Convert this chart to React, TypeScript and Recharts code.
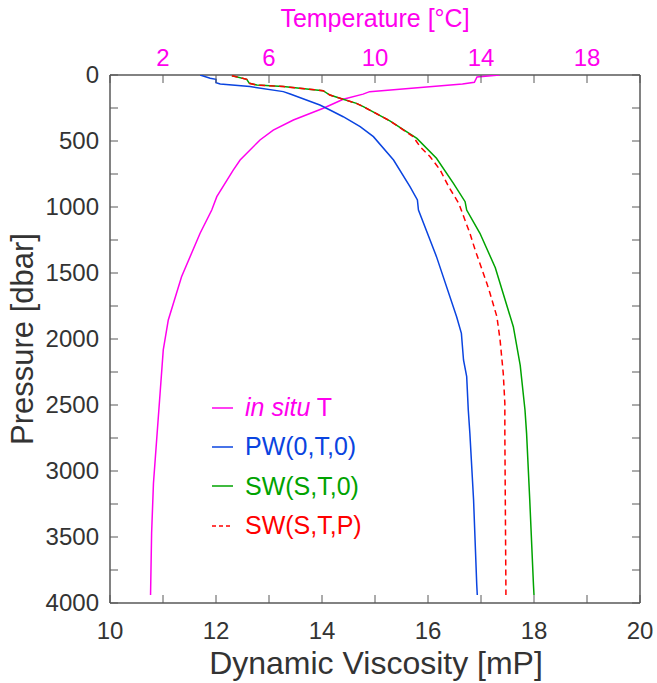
import React from "react";
import { ScatterChart, Scatter, XAxis, YAxis } from "recharts";

// axis ticks
const viscTicks = [10, 11, 12, 13, 14, 15, 16, 17, 18, 19, 20];
const viscLabels = [10, 12, 14, 16, 18, 20];
const tempTicks = [0, 2, 4, 6, 8, 10, 12, 14, 16, 18, 20];
const tempLabels = [2, 6, 10, 14, 18];
const pressureTicks = [
  0, 250, 500, 750, 1000, 1250, 1500, 1750, 2000, 2250, 2500, 2750, 3000,
  3250, 3500, 3750, 4000,
];
const pressureLabels = [0, 500, 1000, 1500, 2000, 2500, 3000, 3500, 4000];

// in situ temperature profile
const tempDepth = [
  0, 15, 55, 68, 126, 145, 184, 252, 341, 417, 492, 644, 720, 922, 1023,
  1199, 1528, 1856, 2083, 2411, 2765, 3093, 3472, 3940,
];
const tempValue = [
  14.7, 13.85, 13.75, 13.3, 9.8, 9.55, 8.8, 8.05, 6.92, 6.16, 5.66, 4.91,
  4.65, 4.03, 3.84, 3.4, 2.7, 2.2, 2.01, 1.89, 1.76, 1.64, 1.57, 1.53,
];

// pure water viscosity
const pwDepth = [
  0, 25, 33, 58, 68, 88, 126, 144, 227, 265, 316, 391, 467, 644, 846, 947,
  1023, 1376, 1831, 1957, 2159, 2285, 2538, 2715, 3220, 3864, 3940,
];
const pwVisc = [
  11.7, 11.89, 12.0, 12.0, 12.08, 12.64, 13.27, 13.4, 13.96, 14.15, 14.4,
  14.72, 14.97, 15.35, 15.66, 15.8, 15.82, 16.16, 16.54, 16.63, 16.67, 16.73,
  16.76, 16.79, 16.86, 16.92, 16.93,
];

// seawater viscosity at surface pressure
const swDepth = [
  5, 33, 63, 76, 88, 119, 152, 184, 215, 240, 347, 480, 631, 821, 960, 1023,
  1199, 1460, 1907, 2200, 2538, 2715, 3220, 3864, 3940,
];
const swVisc = [
  12.3, 12.58, 12.63, 12.77, 13.27, 14.02, 14.15, 14.4, 14.65, 14.78, 15.28,
  15.79, 16.16, 16.48, 16.7, 16.73, 16.98, 17.27, 17.61, 17.74, 17.83, 17.86,
  17.92, 17.99, 18.0,
];

// seawater viscosity at in situ pressure
const swpDepth = [
  5, 33, 63, 76, 88, 119, 152, 184, 215, 240, 347, 467, 543, 619, 720, 846,
  972, 1199, 1326, 1578, 1654, 1831, 2008, 2260, 2487, 2715, 3889, 3940,
];
const swpVisc = [
  12.3, 12.58, 12.63, 12.77, 13.27, 14.02, 14.15, 14.4, 14.65, 14.78, 15.28,
  15.72, 15.85, 16.04, 16.23, 16.39, 16.58, 16.79, 16.89, 17.11, 17.17, 17.3,
  17.36, 17.42, 17.45, 17.45, 17.47, 17.47,
];

const MAGENTA = "#ff00ee";
const BLUE = "#0a44e0";
const GREEN = "#00a300";
const RED = "#ff0000";
const AXIS = "#585858";
const TEXT = "#333333";
const FONT = "'Liberation Sans', Arial, sans-serif";
const TICK_LEN = 8;

const tempData = tempDepth.map((p, i) => ({ p, t: tempValue[i] }));
const pwData = pwDepth.map((p, i) => ({ p, v: pwVisc[i] }));
const swData = swDepth.map((p, i) => ({ p, v: swVisc[i] }));
const swpData = swpDepth.map((p, i) => ({ p, v: swpVisc[i] }));

const noDot = () => <g />;

// ticks point into the plot, like matlab's default box
function inwardTick(side: string, labels: number[], color: string) {
  return (props: any) => {
    const { x, y, payload } = props;
    const v = payload.value;
    const show = labels.includes(v);
    if (side === "bottom") {
      return (
        <g>
          <line x1={x} y1={y} x2={x} y2={y - TICK_LEN} stroke={AXIS} />
          {show && (
            <text x={x} y={y + 36} textAnchor="middle" fill={color} fontSize={24}>
              {v}
            </text>
          )}
        </g>
      );
    }
    if (side === "top") {
      return (
        <g>
          <line x1={x} y1={y} x2={x} y2={y + TICK_LEN} stroke={AXIS} />
          {show && (
            <text x={x} y={y - 9} textAnchor="middle" fill={color} fontSize={24}>
              {v}
            </text>
          )}
        </g>
      );
    }
    if (side === "left") {
      return (
        <g>
          <line x1={x} y1={y} x2={x + TICK_LEN} y2={y} stroke={AXIS} />
          {show && (
            <text x={x - 11} y={y + 8} textAnchor="end" fill={color} fontSize={24}>
              {v}
            </text>
          )}
        </g>
      );
    }
    return <line x1={x} y1={y} x2={x - TICK_LEN} y2={y} stroke={AXIS} />;
  };
}

const legendRows = [
  { color: MAGENTA, dashed: false, label: <><i>in situ</i> T</> },
  { color: BLUE, dashed: false, label: "PW(0,T,0)" },
  { color: GREEN, dashed: false, label: "SW(S,T,0)" },
  { color: RED, dashed: true, label: "SW(S,T,P)" },
];

export default function App() {
  return (
    <div style={{ position: "absolute", left: 0, top: 0, width: 657, height: 683, background: "#fff" }}>
      <ScatterChart
        width={657}
        height={683}
        margin={{ top: 0, right: 0, bottom: 0, left: 0 }}
        style={{ fontFamily: FONT }}
      >
        <XAxis
          xAxisId="visc"
          orientation="bottom"
          type="number"
          dataKey="v"
          domain={[10, 20]}
          ticks={viscTicks}
          interval={0}
          height={80}
          tickSize={0}
          tickMargin={0}
          tickLine={false}
          tick={inwardTick("bottom", viscLabels, TEXT)}
          stroke={AXIS}
          strokeWidth={1.5}
          allowDataOverflow
          label={() => (
            <text x={376} y={674} textAnchor="middle" fill={TEXT} fontSize={32}>
              Dynamic Viscosity [mP]
            </text>
          )}
        />
        <XAxis
          xAxisId="temp"
          orientation="top"
          type="number"
          dataKey="t"
          domain={[0, 20]}
          ticks={tempTicks}
          interval={0}
          height={75}
          tickSize={0}
          tickMargin={0}
          tickLine={false}
          tick={inwardTick("top", tempLabels, MAGENTA)}
          stroke={AXIS}
          strokeWidth={1.5}
          allowDataOverflow
          label={() => (
            <text x={375} y={27} textAnchor="middle" fill={MAGENTA} fontSize={25}>
              Temperature [°C]
            </text>
          )}
        />
        <YAxis
          yAxisId="p"
          orientation="left"
          type="number"
          dataKey="p"
          domain={[0, 4000]}
          reversed
          ticks={pressureTicks}
          interval={0}
          width={110}
          tickSize={0}
          tickMargin={0}
          tickLine={false}
          tick={inwardTick("left", pressureLabels, TEXT)}
          stroke={AXIS}
          strokeWidth={1.5}
          allowDataOverflow
          label={() => (
            <text
              x={33}
              y={339}
              textAnchor="middle"
              fill={TEXT}
              fontSize={31}
              transform="rotate(-90, 33, 339)"
            >
              Pressure [dbar]
            </text>
          )}
        />
        <YAxis
          yAxisId="pr"
          orientation="right"
          type="number"
          domain={[0, 4000]}
          reversed
          ticks={pressureTicks}
          interval={0}
          width={17}
          tickSize={0}
          tickMargin={0}
          tickLine={false}
          tick={inwardTick("right", [], TEXT)}
          stroke={AXIS}
          strokeWidth={1.5}
          allowDataOverflow
        />
        <Scatter
          name="in situ T"
          data={tempData}
          xAxisId="temp"
          yAxisId="p"
          fill={MAGENTA}
          shape={noDot}
          line={{ stroke: MAGENTA, strokeWidth: 1.5 }}
          isAnimationActive={false}
        />
        <Scatter
          name="PW(0,T,0)"
          data={pwData}
          xAxisId="visc"
          yAxisId="p"
          fill={BLUE}
          shape={noDot}
          line={{ stroke: BLUE, strokeWidth: 1.5 }}
          isAnimationActive={false}
        />
        <Scatter
          name="SW(S,T,0)"
          data={swData}
          xAxisId="visc"
          yAxisId="p"
          fill={GREEN}
          shape={noDot}
          line={{ stroke: GREEN, strokeWidth: 1.5 }}
          isAnimationActive={false}
        />
        <Scatter
          name="SW(S,T,P)"
          data={swpData}
          xAxisId="visc"
          yAxisId="p"
          fill={RED}
          shape={noDot}
          line={{ stroke: RED, strokeWidth: 1.5, strokeDasharray: "6 4" }}
          isAnimationActive={false}
        />
      </ScatterChart>
      <div style={{ position: "absolute", left: 211, top: 388, fontFamily: FONT, fontSize: 25 }}>
        {legendRows.map((r, i) => (
          <div key={i} style={{ display: "flex", alignItems: "center", height: 39.3, color: r.color }}>
            <svg width={24} height={4} style={{ marginRight: 10 }}>
              <line
                x1={1}
                y1={2}
                x2={22}
                y2={2}
                stroke={r.color}
                strokeWidth={1.5}
                strokeDasharray={r.dashed ? "4 3" : undefined}
              />
            </svg>
            <span>{r.label}</span>
          </div>
        ))}
      </div>
    </div>
  );
}
